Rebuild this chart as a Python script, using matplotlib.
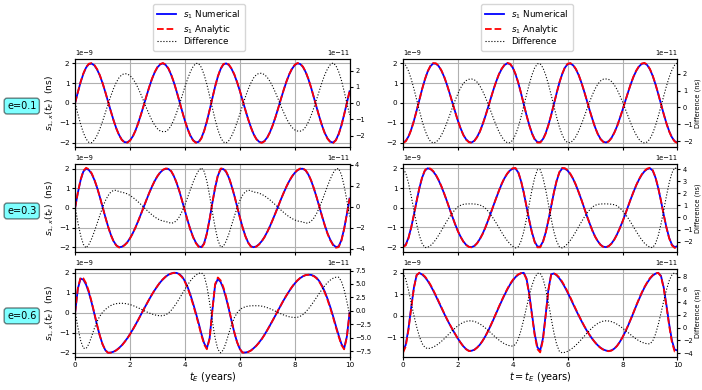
import numpy as np
import matplotlib
matplotlib.use('Agg')
import matplotlib.pyplot as plt
from matplotlib.ticker import MultipleLocator

# sample times (years) for every curve
t_years = np.linspace(0, 10, 101)
ecc_labels = ['e=0.1', 'e=0.3', 'e=0.6']

# residuals in units of 1e-9 (numerical solution)
num_l1 = [0.00, 0.54, 1.05, 1.47, 1.79, 1.96, 1.99, 1.90, 1.69, 1.39,
          1.00, 0.55, 0.07, -0.41, -0.87, -1.28, -1.61, -1.85, -1.98, -1.99,
          -1.89, -1.69, -1.39, -1.01, -0.58, -0.12, 0.35, 0.80, 1.21, 1.55,
          1.80, 1.95, 2.00, 1.92, 1.73, 1.42, 1.03, 0.57, 0.08, -0.42,
          -0.90, -1.31, -1.65, -1.88, -1.99, -1.97, -1.77, -1.41, -0.93, -0.36,
          0.24, 0.82, 1.33, 1.71, 1.94, 2.00, 1.92, 1.72, 1.43, 1.05,
          0.62, 0.14, -0.34, -0.80, -1.21, -1.56, -1.81, -1.96, -2.00, -1.92,
          -1.74, -1.47, -1.12, -0.71, -0.26, 0.21, 0.66, 1.08, 1.44, 1.72,
          1.91, 2.00, 1.97, 1.82, 1.56, 1.20, 0.76, 0.27, -0.23, -0.71,
          -1.16, -1.53, -1.80, -1.96, -2.00, -1.87, -1.57, -1.14, -0.59, 0.00,
          0.59]
num_l2 = [0.00, 0.77, 1.41, 1.85, 2.00, 1.93, 1.74, 1.43, 1.03, 0.56,
          0.05, -0.46, -0.94, -1.36, -1.69, -1.90, -2.00, -1.98, -1.89, -1.75,
          -1.54, -1.29, -0.99, -0.66, -0.31, 0.05, 0.41, 0.76, 1.08, 1.37,
          1.61, 1.80, 1.93, 1.99, 1.98, 1.86, 1.61, 1.26, 0.84, 0.35,
          -0.15, -0.65, -1.10, -1.48, -1.77, -1.95, -2.00, -1.80, -1.29, -0.57,
          0.25, 1.02, 1.63, 1.96, 1.98, 1.83, 1.54, 1.12, 0.63, 0.08,
          -0.47, -0.98, -1.42, -1.75, -1.95, -2.00, -1.96, -1.85, -1.69, -1.48,
          -1.22, -0.93, -0.60, -0.26, 0.09, 0.44, 0.77, 1.08, 1.36, 1.59,
          1.78, 1.91, 1.99, 1.99, 1.90, 1.69, 1.38, 0.98, 0.53, 0.05,
          -0.44, -0.90, -1.31, -1.63, -1.87, -1.99, -1.96, -1.65, -1.07, -0.32,
          0.48]
num_l3 = [0.00, 1.20, 1.71, 1.65, 1.40, 1.01, 0.51, -0.05, -0.63, -1.15,
          -1.58, -1.87, -2.00, -1.99, -1.95, -1.87, -1.76, -1.63, -1.46, -1.28,
          -1.07, -0.84, -0.60, -0.35, -0.09, 0.17, 0.42, 0.67, 0.91, 1.13,
          1.33, 1.52, 1.67, 1.80, 1.90, 1.96, 2.00, 1.99, 1.93, 1.80,
          1.58, 1.28, 0.90, 0.46, -0.02, -0.52, -1.05, -1.52, -1.78, -1.28,
          0.11, 1.38, 1.69, 1.54, 1.21, 0.74, 0.18, -0.42, -0.99, -1.47,
          -1.81, -1.99, -1.99, -1.96, -1.89, -1.78, -1.65, -1.49, -1.31, -1.10,
          -0.87, -0.63, -0.38, -0.13, 0.13, 0.38, 0.63, 0.86, 1.08, 1.28,
          1.46, 1.61, 1.73, 1.82, 1.88, 1.90, 1.89, 1.84, 1.74, 1.57,
          1.34, 1.04, 0.68, 0.27, -0.18, -0.66, -1.12, -1.55, -1.79, -1.20,
          0.00]
num_r1 = [-2.00, -1.92, -1.70, -1.35, -0.90, -0.38, 0.16, 0.70, 1.18, 1.58,
          1.85, 1.99, 1.98, 1.86, 1.63, 1.32, 0.93, 0.49, 0.02, -0.44,
          -0.89, -1.28, -1.61, -1.84, -1.97, -2.00, -1.91, -1.72, -1.45, -1.09,
          -0.68, -0.23, 0.23, 0.68, 1.09, 1.45, 1.72, 1.91, 2.00, 1.96,
          1.78, 1.45, 1.02, 0.50, -0.06, -0.61, -1.11, -1.53, -1.83, -1.98,
          -1.98, -1.83, -1.53, -1.11, -0.61, -0.06, 0.50, 1.02, 1.45, 1.78,
          1.96, 1.99, 1.90, 1.70, 1.41, 1.03, 0.59, 0.12, -0.36, -0.81,
          -1.23, -1.57, -1.82, -1.96, -2.00, -1.93, -1.76, -1.50, -1.18, -0.78,
          -0.36, 0.09, 0.53, 0.95, 1.32, 1.62, 1.84, 1.97, 2.00, 1.91,
          1.69, 1.36, 0.94, 0.46, -0.05, -0.56, -1.03, -1.43, -1.74, -1.93,
          -2.00]
num_r2 = [-1.95, -1.88, -1.53, -1.00, -0.35, 0.35, 1.00, 1.53, 1.88, 2.00,
          1.96, 1.84, 1.65, 1.39, 1.08, 0.72, 0.34, -0.06, -0.45, -0.83,
          -1.18, -1.47, -1.71, -1.88, -1.98, -2.00, -1.94, -1.80, -1.59, -1.33,
          -1.01, -0.65, -0.27, 0.12, 0.50, 0.87, 1.21, 1.50, 1.72, 1.89,
          1.98, 1.99, 1.79, 1.36, 0.77, 0.07, -0.63, -1.25, -1.72, -1.97,
          -1.97, -1.72, -1.26, -0.63, 0.07, 0.77, 1.36, 1.79, 1.99, 1.98,
          1.88, 1.70, 1.46, 1.15, 0.79, 0.41, 0.00, -0.41, -0.79, -1.15,
          -1.46, -1.70, -1.88, -1.98, -2.00, -1.94, -1.81, -1.61, -1.35, -1.04,
          -0.70, -0.33, 0.06, 0.44, 0.80, 1.14, 1.43, 1.67, 1.85, 1.96,
          2.00, 1.88, 1.53, 1.00, 0.35, -0.35, -1.00, -1.53, -1.88, -2.00,
          -1.95]
num_r3 = [-1.63, -1.35, -0.60, 0.39, 1.32, 1.90, 1.99, 1.92, 1.80, 1.63,
          1.42, 1.18, 0.92, 0.65, 0.38, 0.11, -0.15, -0.39, -0.62, -0.84,
          -1.05, -1.24, -1.41, -1.54, -1.62, -1.62, -1.57, -1.47, -1.34, -1.16,
          -0.95, -0.71, -0.44, -0.16, 0.13, 0.42, 0.70, 0.97, 1.22, 1.45,
          1.64, 1.80, 1.91, 1.98, 2.00, 1.74, 1.03, 0.09, -0.83, -1.46,
          -1.61, -1.05, 0.06, 1.23, 1.93, 1.97, 1.88, 1.74, 1.55, 1.33,
          1.08, 0.82, 0.55, 0.28, 0.02, -0.23, -0.47, -0.69, -0.89, -1.07,
          -1.23, -1.37, -1.48, -1.56, -1.61, -1.63, -1.60, -1.52, -1.39, -1.21,
          -0.99, -0.74, -0.46, -0.16, 0.15, 0.47, 0.77, 1.06, 1.32, 1.54,
          1.73, 1.87, 1.96, 2.00, 1.86, 1.32, 0.50, -0.39, -1.15, -1.57,
          -1.60]

# numerical - analytic, in units of 1e-11
diff_l1 = [0.00, -0.67, -1.30, -1.82, -2.21, -2.42, -2.44, -2.28, -1.99, -1.60,
           -1.13, -0.60, -0.07, 0.43, 0.89, 1.27, 1.56, 1.74, 1.81, 1.79,
           1.69, 1.50, 1.24, 0.90, 0.52, 0.11, -0.31, -0.71, -1.07, -1.36,
           -1.58, -1.72, -1.76, -1.75, -1.63, -1.38, -1.02, -0.58, -0.08, 0.45,
           1.00, 1.49, 1.93, 2.25, 2.44, 2.43, 2.19, 1.74, 1.15, 0.44,
           -0.30, -1.01, -1.64, -2.11, -2.40, -2.46, -2.31, -2.03, -1.65, -1.19,
           -0.69, -0.15, 0.36, 0.83, 1.22, 1.54, 1.74, 1.83, 1.83, 1.75,
           1.58, 1.33, 1.01, 0.64, 0.23, -0.19, -0.58, -0.95, -1.26, -1.50,
           -1.65, -1.72, -1.73, -1.66, -1.47, -1.16, -0.76, -0.28, 0.24, 0.77,
           1.30, 1.76, 2.12, 2.37, 2.47, 2.31, 1.94, 1.41, 0.73, 0.00,
           -0.73]
diff_l2 = [0.00, -1.48, -2.71, -3.56, -3.90, -3.57, -3.04, -2.35, -1.59, -0.81,
           -0.07, 0.57, 1.06, 1.40, 1.56, 1.57, 1.44, 1.39, 1.32, 1.23,
           1.08, 0.90, 0.69, 0.46, 0.22, -0.04, -0.29, -0.53, -0.76, -0.96,
           -1.13, -1.26, -1.35, -1.39, -1.48, -1.56, -1.50, -1.29, -0.94, -0.42,
           0.20, 0.91, 1.64, 2.34, 2.96, 3.44, 3.70, 3.36, 2.43, 1.08,
           -0.48, -1.95, -3.15, -3.81, -3.75, -3.27, -2.58, -1.75, -0.91, -0.11,
           0.58, 1.10, 1.43, 1.58, 1.54, 1.40, 1.37, 1.30, 1.18, 1.04,
           0.85, 0.65, 0.42, 0.18, -0.06, -0.31, -0.54, -0.76, -0.95, -1.11,
           -1.25, -1.34, -1.39, -1.44, -1.55, -1.53, -1.37, -1.06, -0.62, -0.06,
           0.60, 1.30, 2.01, 2.65, 3.21, 3.59, 3.63, 3.07, 2.00, 0.60,
           -0.91]
diff_l3 = [-0.05, -3.07, -5.53, -6.96, -7.05, -6.20, -4.80, -3.30, -2.00, -1.00,
           -0.30, 0.25, 0.65, 0.98, 1.20, 1.33, 1.39, 1.40, 1.37, 1.29,
           1.16, 0.99, 0.78, 0.55, 0.31, 0.05, -0.19, -0.41, -0.61, -0.76,
           -0.87, -0.93, -0.92, -0.76, -0.42, 0.09, 0.73, 1.48, 2.30, 3.16,
           4.02, 4.84, 5.57, 6.19, 6.66, 6.97, 7.10, 6.58, 4.59, 1.53,
           -1.94, -5.08, -7.19, -7.84, -7.30, -5.90, -4.20, -2.60, -1.30, -0.40,
           0.20, 0.55, 0.75, 0.87, 0.93, 0.95, 0.94, 0.93, 0.86, 0.74,
           0.58, 0.39, 0.16, -0.08, -0.33, -0.56, -0.78, -0.96, -1.11, -1.20,
           -1.25, -1.21, -1.02, -0.69, -0.22, 0.35, 1.03, 1.76, 2.53, 3.29,
           4.02, 4.70, 5.28, 5.74, 6.07, 6.26, 6.26, 5.52, 3.95, 1.75,
           -0.78]
diff_r1 = [2.63, 2.48, 2.16, 1.68, 1.10, 0.45, -0.19, -0.81, -1.33, -1.74,
           -2.00, -2.10, -2.05, -1.90, -1.64, -1.31, -0.90, -0.47, -0.02, 0.41,
           0.81, 1.15, 1.42, 1.58, 1.66, 1.68, 1.63, 1.50, 1.28, 0.98,
           0.62, 0.21, -0.22, -0.66, -1.07, -1.44, -1.74, -1.96, -2.08, -2.08,
           -1.93, -1.61, -1.16, -0.58, 0.07, 0.74, 1.37, 1.92, 2.34, 2.58,
           2.58, 2.34, 1.92, 1.37, 0.74, 0.07, -0.58, -1.16, -1.61, -1.93,
           -2.08, -2.07, -1.95, -1.72, -1.40, -1.00, -0.57, -0.11, 0.33, 0.74,
           1.10, 1.38, 1.57, 1.67, 1.68, 1.65, 1.53, 1.33, 1.06, 0.71,
           0.33, -0.09, -0.51, -0.93, -1.31, -1.63, -1.88, -2.04, -2.10, -2.04,
           -1.85, -1.52, -1.07, -0.53, 0.06, 0.67, 1.26, 1.79, 2.21, 2.50,
           2.63]
diff_r2 = [4.00, 3.68, 2.86, 1.78, 0.59, -0.56, -1.51, -2.16, -2.49, -2.47,
           -2.33, -2.11, -1.82, -1.47, -1.09, -0.69, -0.31, 0.05, 0.37, 0.65,
           0.87, 1.00, 1.08, 1.11, 1.12, 1.12, 1.11, 1.08, 1.03, 0.93,
           0.77, 0.52, 0.23, -0.11, -0.47, -0.85, -1.24, -1.61, -1.92, -2.19,
           -2.39, -2.52, -2.43, -1.97, -1.19, -0.11, 1.09, 2.28, 3.29, 3.95,
           3.95, 3.29, 2.29, 1.09, -0.11, -1.19, -1.97, -2.43, -2.52, -2.39,
           -2.17, -1.89, -1.55, -1.17, -0.77, -0.38, 0.00, 0.34, 0.62, 0.86,
           1.00, 1.08, 1.11, 1.12, 1.12, 1.11, 1.09, 1.05, 0.96, 0.79,
           0.56, 0.28, -0.05, -0.41, -0.78, -1.16, -1.52, -1.85, -2.13, -2.33,
           -2.47, -2.49, -2.16, -1.51, -0.56, 0.59, 1.78, 2.86, 3.68, 4.10,
           4.00]
diff_r3 = [8.60, 7.60, 5.90, 3.90, 1.90, 0.10, -1.40, -2.50, -3.10, -3.29,
           -3.22, -3.06, -2.82, -2.52, -2.16, -1.76, -1.33, -0.90, -0.47, -0.07,
           0.28, 0.59, 0.82, 0.98, 1.06, 1.06, 0.97, 0.81, 0.58, 0.29,
           -0.05, -0.42, -0.81, -1.21, -1.59, -1.95, -2.27, -2.53, -2.73, -2.85,
           -2.90, -2.65, -1.80, -0.45, 1.26, 3.14, 4.98, 6.60, 7.81, 8.49,
           8.53, 7.70, 6.08, 3.89, 1.47, -0.81, -2.63, -3.72, -3.95, -3.87,
           -3.71, -3.46, -3.14, -2.75, -2.32, -1.85, -1.37, -0.89, -0.43, -0.01,
           0.36, 0.66, 0.89, 1.02, 1.07, 1.03, 0.93, 0.76, 0.53, 0.25,
           -0.07, -0.42, -0.77, -1.13, -1.47, -1.79, -2.06, -2.28, -2.44, -2.53,
           -2.54, -2.09, -1.04, 0.46, 2.27, 4.16, 5.92, 7.35, 8.28, 8.60,
           8.30]

# tick step of the difference axis (units of 1e-11), per column and row
diff_steps = [[1, 2, 2.5], [1, 1, 2]]

columns = [
    ([num_l1, num_l2, num_l3], [diff_l1, diff_l2, diff_l3], r'$t_E$ (years)'),
    ([num_r1, num_r2, num_r3], [diff_r1, diff_r2, diff_r3], r'$t = t_E$ (years)'),
]

fig = plt.figure(figsize=(7.02, 3.90), dpi=100)
col_x = [0.107, 0.574]
row_y = [0.623, 0.354, 0.085]
w, h = 0.391, 0.226
legend_x = [0.2835, 0.7507]

for c, (nums, diffs, xlab) in enumerate(columns):
    for r in range(3):
        ax = fig.add_axes([col_x[c], row_y[r], w, h])
        s_num = np.array(nums[r]) * 1e-9
        d = np.array(diffs[r]) * 1e-11
        l1, = ax.plot(t_years, s_num, color='blue', lw=1.3, label=r'$s_1$ Numerical')
        l2, = ax.plot(t_years, s_num - d, color='red', ls='--', lw=1.3, label=r'$s_1$ Analytic')
        ax.set_xlim(0, 10)
        ax.yaxis.set_major_locator(MultipleLocator(1e-9))
        ax.grid(True)
        ax.tick_params(labelsize=5.2, length=2.5, pad=1.5)
        ax.yaxis.get_offset_text().set_fontsize(4.8)
        if r < 2:
            ax.tick_params(labelbottom=False)
        else:
            ax.set_xlabel(xlab, fontsize=7, labelpad=1)
        if c == 0:
            ax.set_ylabel(r'$s_{1,\,x}(t_E)$  (ns)', fontsize=6.5, labelpad=2)

        ax2 = ax.twinx()
        l3, = ax2.plot(t_years, d, color='black', ls=':', lw=0.8, label='Difference')
        ax2.yaxis.set_major_locator(MultipleLocator(diff_steps[c][r] * 1e-11))
        ax2.tick_params(labelsize=4.8, length=2.5, pad=1.5)
        ax2.yaxis.get_offset_text().set_fontsize(4.8)
        if c == 1:
            ax2.set_ylabel('Difference (ns)', fontsize=4.8, labelpad=1.5)

        if r == 0:
            fig.legend([l1, l2, l3], [l1.get_label(), l2.get_label(), l3.get_label()],
                       loc='center', bbox_to_anchor=(legend_x[c], 0.9295),
                       fontsize=6.3, handlelength=2.2, borderpad=0.5,
                       labelspacing=0.2)
        if c == 0:
            fig.text(0.031, row_y[r] + h / 2 - 0.008, ecc_labels[r], ha='center', va='center',
                     fontsize=7, bbox=dict(boxstyle='round', facecolor='cyan', alpha=0.5))

fig.savefig('out.png', dpi=100)
